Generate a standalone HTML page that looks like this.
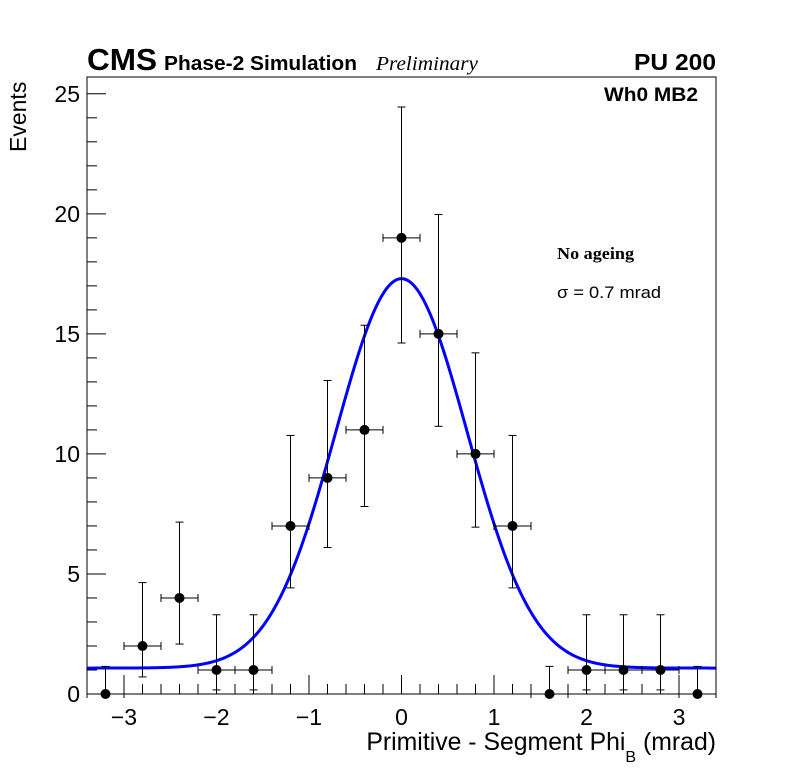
<!DOCTYPE html>
<html><head><meta charset="utf-8"><style>
html,body{margin:0;padding:0;background:#fff;}
svg{display:block;font-family:"Liberation Sans",sans-serif;}
</style></head><body>
<svg id="chart" width="796" height="772" viewBox="0 0 796 772" xmlns="http://www.w3.org/2000/svg">
<rect x="0" y="0" width="796" height="772" fill="#fff"/>
<text x="87" y="70" font-size="31" font-weight="bold" textLength="70" lengthAdjust="spacingAndGlyphs">CMS</text>
<text x="164" y="70" font-size="20" font-weight="bold" textLength="193" lengthAdjust="spacingAndGlyphs">Phase-2 Simulation</text>
<text x="376" y="70" font-size="20" font-style="italic" font-family="Liberation Serif, serif" textLength="102" lengthAdjust="spacingAndGlyphs">Preliminary</text>
<text x="634" y="70" font-size="23" font-weight="bold" textLength="82" lengthAdjust="spacingAndGlyphs">PU 200</text>
<text x="604" y="101" font-size="19" font-weight="bold" textLength="94" lengthAdjust="spacingAndGlyphs">Wh0 MB2</text>
<text x="557" y="259" font-size="17" font-weight="bold" font-family="Liberation Serif, serif" textLength="77" lengthAdjust="spacingAndGlyphs">No ageing</text>
<text x="557" y="298" font-size="17" textLength="104" lengthAdjust="spacingAndGlyphs">σ = 0.7 mrad</text>
<text transform="translate(26,152) rotate(-90)" font-size="23">Events</text>
<text x="716" y="750" font-size="24.8" text-anchor="end">Primitive - Segment Phi<tspan font-size="16" dy="12">B</tspan><tspan dy="-12"> (mrad)</tspan></text>
<g id="axes"></g>
<g id="marks"></g>
<rect x="87" y="77" width="629" height="617" fill="none" stroke="#000" stroke-width="1"/>
</svg>
<script>
const binCenters=[-3.2,-2.8,-2.4,-2.0,-1.6,-1.2,-0.8,-0.4,0,0.4,0.8,1.2,1.6,2.0,2.4,2.8,3.2];
const counts=[0,2,4,1,1,7,9,11,19,15,10,7,0,1,1,1,0];
const errLow=[0,0.71,2.08,0.17,0.17,4.42,6.10,7.81,14.62,11.15,6.95,4.42,0,0.17,0.17,0.17,0];
const errHigh=[1.15,4.64,7.16,3.30,3.30,10.77,13.06,15.36,24.45,19.97,14.21,10.77,1.15,3.30,3.30,3.30,1.15];
const fitConst=1.08, fitAmp=16.22, fitMean=0.0, fitSigma=0.71;
const xTicks=[-3,-2,-1,0,1,2,3];
const xTickLabels=["−3","−2","−1","0","1","2","3"];
const yTicks=[0,5,10,15,20,25];
const yTickLabels=["0","5","10","15","20","25"];
const binHalf=0.2;
const X0=87,X1=716,Y0=694,Y1=77,xmin=-3.4,xmax=3.4,ymin=0,ymax=25.7;
function sx(v){return X0+(v-xmin)/(xmax-xmin)*(X1-X0);}
function sy(v){return Y0-(v-ymin)/(ymax-ymin)*(Y0-Y1);}
const NS="http://www.w3.org/2000/svg";
const axes=document.getElementById('axes'),marks=document.getElementById('marks');
function mk(tag,attrs,parent){const e=document.createElementNS(NS,tag);for(const k in attrs)e.setAttribute(k,attrs[k]);parent.appendChild(e);return e;}
for(let i=-17;i<=17;i++){const v=i*0.2;if(v<xmin||v>xmax)continue;const major=Math.abs(v-Math.round(v))<1e-6;
const t=mk('line',{x1:sx(v),x2:sx(v),y1:Y0,y2:Y0-(major?19:10),stroke:'#000'},axes);

}
xTicks.forEach((v,i)=>{const t=mk('text',{x:sx(v),y:725,'font-size':23,'text-anchor':'middle'},axes);t.textContent=xTickLabels[i];

});
for(let i=0;i<=25;i++){const major=i%5===0;
const t=mk('line',{x1:X0,x2:X0+(major?19:10),y1:sy(i),y2:sy(i),stroke:'#000'},axes);

}
yTicks.forEach((v,i)=>{const t=mk('text',{x:80,y:sy(v)+8,'font-size':23,'text-anchor':'end'},axes);t.textContent=yTickLabels[i];

});
let d='';for(let k=0;k<=400;k++){const x=xmin+(xmax-xmin)*k/400;const y=fitConst+fitAmp*Math.exp(-Math.pow(x-fitMean,2)/(2*fitSigma*fitSigma));d+=(k?'L':'M')+sx(x).toFixed(2)+','+sy(y).toFixed(2);}
const fit=mk('path',{d:d,fill:'none',stroke:'#0000ff','stroke-width':3},marks);


binCenters.forEach((c,i)=>{const g=mk('g',{},marks);


const px=sx(c),py=sy(counts[i]);
mk('line',{x1:px,x2:px,y1:sy(errLow[i]),y2:sy(errHigh[i]),stroke:'#000'},g);
mk('line',{x1:px-4,x2:px+4,y1:sy(errHigh[i]),y2:sy(errHigh[i]),stroke:'#000'},g);
if(errLow[i]>0)mk('line',{x1:px-4,x2:px+4,y1:sy(errLow[i]),y2:sy(errLow[i]),stroke:'#000'},g);
mk('line',{x1:sx(c-binHalf),x2:sx(c+binHalf),y1:py,y2:py,stroke:'#000'},g);
mk('line',{x1:sx(c-binHalf),x2:sx(c-binHalf),y1:py-4,y2:py+4,stroke:'#000'},g);
mk('line',{x1:sx(c+binHalf),x2:sx(c+binHalf),y1:py-4,y2:py+4,stroke:'#000'},g);
mk('circle',{cx:px,cy:py,r:5,fill:'#000'},g);});
</script>
</body></html>
